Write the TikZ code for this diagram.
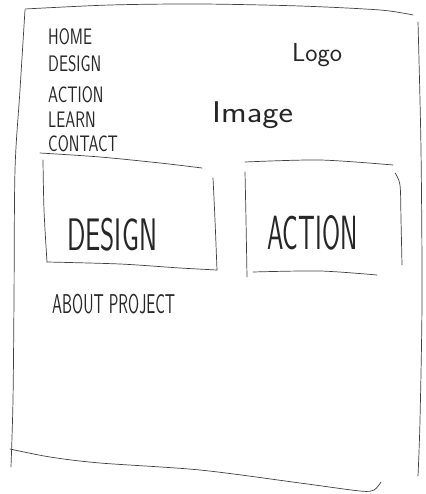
\documentclass[tikz,border=0pt]{standalone}
\begin{document}
\begin{tikzpicture}[x=1pt,y=-1pt,
  pen/.style={line width=0.7pt, draw=black!75, line cap=round, line join=round},
  hand/.style={font=\sffamily, text=black!85, inner sep=0pt, anchor=base west},
  navtxt/.style={hand, font=\sffamily\fontsize{16}{16}\selectfont, yscale=1.4},
  bigtxt/.style={hand, font=\sffamily\fontsize{24}{24}\selectfont}]
\useasboundingbox (0,0) rectangle (425,494);
% outer frame
\draw[pen] plot[smooth] coordinates {(25,9) (110,5) (200,4) (300,6) (380,10) (413,15)};
\draw[pen] plot[smooth] coordinates {(25,10) (20,90) (15,170) (14,300) (13,400) (11,467)};
\draw[pen] plot[smooth] coordinates {(418,22) (421,150) (422,300) (420,420) (418,476)};
\draw[pen] plot[smooth] coordinates {(10,449) (50,457) (100,463) (200,470) (300,483) (360,491) (374,490) (381,482)};
% navigation
\node[navtxt] (home) at (48,45) {HOME};
\node[navtxt] (design) at (48,72) {DESIGN};
\node[navtxt] (action) at (48,103) {ACTION};
\node[navtxt] (learn) at (48,128) {LEARN};
\node[navtxt] (contact) at (48,152) {CONTACT};
% logo and image
\node[hand, font=\sffamily\fontsize{26}{26}\selectfont] (logo) at (292,62) {Logo};
\node[hand, font=\sffamily\fontsize{30}{30}\selectfont, xscale=1.15] (image) at (212,123) {Image};
% design box
\draw[pen] plot[smooth] coordinates {(40,153) (100,157) (160,163) (202,168)};
\draw[pen] plot[smooth] coordinates {(43,160) (44,210) (47,262)};
\draw[pen] plot[smooth] coordinates {(47,262) (120,264) (180,268) (217,270)};
\draw[pen] plot[smooth] coordinates {(213,178) (215,220) (217,270)};
\node[bigtxt, xscale=1.13, yscale=1.9] (designbox) at (67,250) {DESIGN};
% action box
\draw[pen] plot[smooth] coordinates {(245,162) (320,160) (393,165)};
\draw[pen] plot[smooth] coordinates {(245,172) (246,220) (247,277)};
\draw[pen] plot[smooth] coordinates {(253,272) (320,271) (377,275)};
\draw[pen] plot[smooth] coordinates {(395,173) (400,185) (401,220) (402,265)};
\node[bigtxt, xscale=1.09, yscale=2] (actionbox) at (267,249) {ACTION};
% about
\node[hand, font=\sffamily\fontsize{16}{16}\selectfont, yscale=1.7] (about) at (52,313) {ABOUT PROJECT};
\end{tikzpicture}
\end{document}
